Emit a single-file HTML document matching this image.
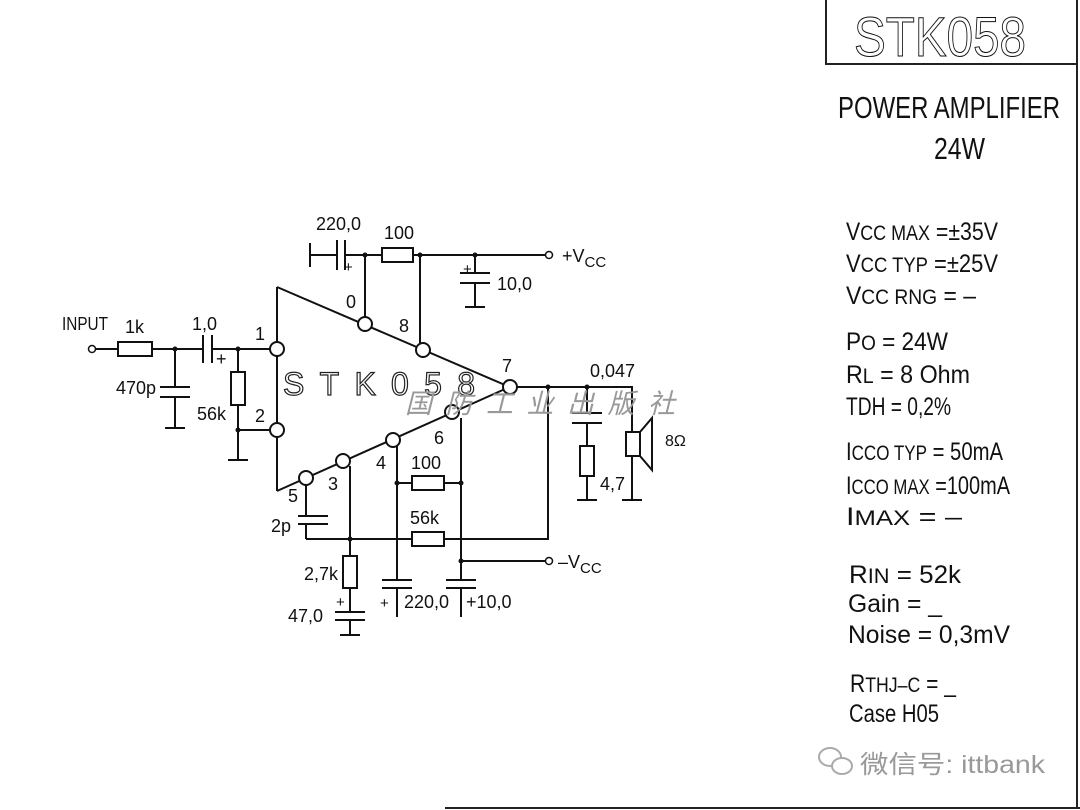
<!DOCTYPE html>
<html><head><meta charset="utf-8"><style>
html,body{margin:0;padding:0;background:#fff;}
svg{display:block;}
text{font-family:"Liberation Sans",sans-serif;}
</style></head><body>
<svg width="1080" height="810" viewBox="0 0 1080 810" xmlns="http://www.w3.org/2000/svg">
<rect width="1080" height="810" fill="#fff"/>
<g stroke="#222" stroke-width="2" fill="none">
<path d="M1077 0 V808 M445 808 H1080"/>
<path d="M826 0 V64 H1078"/>
</g>
<text x="940" y="56" font-size="56" text-anchor="middle" fill="none" stroke="#111" stroke-width="1" textLength="172" lengthAdjust="spacingAndGlyphs">STK058</text>

<g fill="#111" font-size="30">
<text x="838" y="118" textLength="222" lengthAdjust="spacingAndGlyphs" font-size="31">POWER  AMPLIFIER</text>
<text x="934" y="159" textLength="51" lengthAdjust="spacingAndGlyphs" font-size="31">24W</text>
</g>
<g fill="#111" font-size="25">
<text x="846" y="240" textLength="152" lengthAdjust="spacingAndGlyphs">V<tspan font-size="21">CC MAX</tspan> =±35V</text>
<text x="846" y="272" textLength="152" lengthAdjust="spacingAndGlyphs">V<tspan font-size="21">CC TYP</tspan> =±25V</text>
<text x="846" y="304" textLength="130" lengthAdjust="spacingAndGlyphs">V<tspan font-size="21">CC RNG</tspan> =  –</text>
<text x="846" y="350" textLength="102" lengthAdjust="spacingAndGlyphs">P<tspan font-size="21">O</tspan> = 24W</text>
<text x="846" y="383" textLength="124" lengthAdjust="spacingAndGlyphs">R<tspan font-size="21">L</tspan> = 8 Ohm</text>
<text x="846" y="415" textLength="105" lengthAdjust="spacingAndGlyphs">TDH = 0,2%</text>
<text x="846" y="460" textLength="157" lengthAdjust="spacingAndGlyphs">I<tspan font-size="21">CCO TYP</tspan> = 50mA</text>
<text x="846" y="494" textLength="164" lengthAdjust="spacingAndGlyphs">I<tspan font-size="21">CCO MAX</tspan> =100mA</text>
<text x="846" y="525" textLength="116" lengthAdjust="spacingAndGlyphs">I<tspan font-size="21">MAX</tspan>  =    –</text>
<text x="849" y="583" textLength="112" lengthAdjust="spacingAndGlyphs">R<tspan font-size="21">IN</tspan>   =  52k</text>
<text x="848" y="612" textLength="94" lengthAdjust="spacingAndGlyphs">Gain  =  _</text>
<text x="848" y="643" textLength="162" lengthAdjust="spacingAndGlyphs">Noise = 0,3mV</text>
<text x="850" y="692" textLength="106" lengthAdjust="spacingAndGlyphs">R<tspan font-size="21">THJ–C</tspan> = _</text>
<text x="849" y="722" textLength="90" lengthAdjust="spacingAndGlyphs">Case H05</text>
</g>
<g stroke="#aaa" stroke-width="2" fill="#fff">
<ellipse cx="830" cy="757" rx="11" ry="9"/>
<ellipse cx="842" cy="766" rx="10" ry="8"/>
</g>
<text x="860" y="773" font-size="25" fill="#999" font-family="Liberation Sans, Noto Sans CJK SC, sans-serif" textLength="185" lengthAdjust="spacingAndGlyphs">微信号: ittbank</text>

<g stroke="#111" stroke-width="2" fill="none">
<path d="M277 287 V491 M277 287 L505 385 M277 491 L505 389"/>
<path d="M96 349 H118 M152 349 H203 M212 349 H270"/>
<rect x="118" y="342" width="34" height="14" fill="#fff"/>
<path d="M203 335 V363 M212 335 V363"/>
<path d="M175 349 V387 M160 387 H190 M160 397 H190 M175 397 V428 M165 428 H185"/>
<path d="M238 349 V372"/><rect x="231" y="372" width="14" height="33" fill="#fff"/>
<path d="M238 405 V460 M228 460 H248 M238 430 H270"/>
<path d="M310 243 V267 M310 255 H337 M337 240 V270 M345 240 V270 M345 255 H382 M413 255 H545"/>
<rect x="382" y="248" width="31" height="14" fill="#fff"/>
<path d="M365 255 V317 M420 255 V343"/>
<path d="M475 255 V273 M460 273 H490 M460 283 H490 M475 283 V307 M465 307 H485"/>
<path d="M517 387 H632 V432 M632 456 V500 M622 500 H642"/>
<rect x="626" y="432" width="14" height="24" fill="#fff"/>
<path d="M640 432 L652 418 V470 L640 456"/>
<path d="M587 387 V413 M572 413 H602 M572 423 H602 M587 423 V446 M587 476 V500 M577 500 H597"/>
<rect x="580" y="446" width="14" height="30" fill="#fff"/>
<path d="M548 387 V539 H444 M412 539 H306"/>
<rect x="412" y="532" width="32" height="14" fill="#fff"/>
<path d="M306 484 V516 M298 516 H328 M298 524 H328 M306 524 V539"/>
<path d="M350 466 V556 M350 588 V612 M335 612 H365 M335 620 H365 M350 620 V635 M340 635 H360"/>
<rect x="343" y="556" width="14" height="32" fill="#fff"/>
<path d="M397 446 V580 M382 580 H412 M382 588 H412 M397 588 V617"/>
<path d="M397 483 H412 M444 483 H461"/>
<rect x="412" y="476" width="32" height="14" fill="#fff"/>
<path d="M461 418 V580 M446 580 H476 M446 588 H476 M461 588 V617 M461 561 H545"/>
</g>
<g stroke="#111" stroke-width="2" fill="#fff">
<circle cx="277" cy="349" r="7"/><circle cx="277" cy="430" r="7"/>
<circle cx="365" cy="324" r="7"/><circle cx="423" cy="350" r="7"/>
<circle cx="510" cy="387" r="7"/><circle cx="452" cy="412" r="7"/>
<circle cx="393" cy="440" r="7"/><circle cx="343" cy="461" r="7"/>
<circle cx="306" cy="478" r="7"/>
</g>
<g stroke="#111" stroke-width="1.5" fill="#fff">
<circle cx="92" cy="349" r="3.5"/><circle cx="549" cy="255" r="3.5"/><circle cx="549" cy="561" r="3.5"/>
</g>
<g fill="#111">
<circle cx="175" cy="349" r="2.5"/><circle cx="238" cy="349" r="2.5"/><circle cx="238" cy="430" r="2.5"/>
<circle cx="365" cy="255" r="2.5"/><circle cx="420" cy="255" r="2.5"/><circle cx="475" cy="255" r="2.5"/>
<circle cx="548" cy="387" r="2.5"/><circle cx="587" cy="387" r="2.5"/>
<circle cx="350" cy="539" r="2.5"/><circle cx="397" cy="483" r="2.5"/><circle cx="461" cy="483" r="2.5"/><circle cx="461" cy="561" r="2.5"/>
</g>
<g fill="#111" font-size="18">
<text x="62" y="330" textLength="46" lengthAdjust="spacingAndGlyphs">INPUT</text>
<text x="125" y="333">1k</text>
<text x="192" y="330">1,0</text>
<text x="216" y="365">+</text>
<text x="116" y="394">470p</text>
<text x="197" y="420">56k</text>
<text x="255" y="340">1</text><text x="255" y="422">2</text>
<text x="346" y="308">0</text><text x="399" y="332">8</text>
<text x="502" y="372">7</text><text x="434" y="444">6</text>
<text x="376" y="469">4</text><text x="328" y="490">3</text><text x="288" y="502">5</text>
<text x="316" y="230">220,0</text><text x="384" y="239">100</text>
<text x="344" y="272" font-size="15">+</text>
<text x="463" y="274" font-size="15">+</text>
<text x="497" y="290">10,0</text>
<text x="562" y="262">+V<tspan font-size="15" dy="5">CC</tspan></text>
<text x="590" y="377">0,047</text>
<text x="600" y="490">4,7</text>
<text x="665" y="446" font-size="16">8Ω</text>
<text x="411" y="469">100</text>
<text x="410" y="524">56k</text>
<text x="271" y="532">2p</text>
<text x="558" y="568">–V<tspan font-size="15" dy="5">CC</tspan></text>
<text x="304" y="580">2,7k</text>
<text x="336" y="607" font-size="15">+</text>
<text x="288" y="622">47,0</text>
<text x="380" y="608" font-size="15">+</text>
<text x="404" y="608">220,0</text>
<text x="466" y="608">+10,0</text>
</g>
<text x="283" y="395" font-size="32" fill="none" stroke="#222" stroke-width="1.2" textLength="192" lengthAdjust="spacing">STK058</text>
<text x="405" y="413" font-size="27" fill="#999" font-family="Liberation Serif, Noto Serif CJK SC, serif" textLength="270" lengthAdjust="spacing" font-style="italic">国防工业出版社</text>
</svg>
</body></html>
